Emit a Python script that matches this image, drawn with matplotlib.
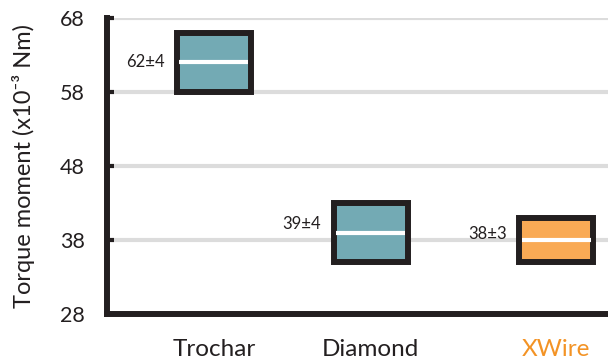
import matplotlib.pyplot as plt
from matplotlib.patches import Rectangle

# Torque moment (x10^-3 Nm) per needle type: mean and spread
categories = ["Trochar", "Diamond", "XWire"]
means = [62, 39, 38]
spreads = [4, 4, 3]
fill_colors = ["#73aab4", "#73aab4", "#f9aa55"]
label_colors = ["#231f20", "#231f20", "#f39325"]
yticks = [28, 38, 48, 58, 68]

plt.rcParams["font.family"] = ["Lato", "DejaVu Sans"]
dark = "#231f20"

fig = plt.figure(figsize=(6.08, 3.62), dpi=100)
ax = fig.add_axes([107 / 608, 1 - 314 / 362, 1 - 107 / 608, (314 - 18) / 362])

xpos = [0, 1, 2.18]
width = 0.47
label_dy = [0, 1.2, 0.8]

for i, (m, s) in enumerate(zip(means, spreads)):
    x = xpos[i]
    ax.add_patch(Rectangle((x - width / 2, m - s), width, 2 * s,
                           facecolor=fill_colors[i], edgecolor=dark,
                           linewidth=4.3, zorder=3))
    ax.plot([x - width / 2 + 0.015, x + width / 2 - 0.015], [m, m],
            color="white", linewidth=3, solid_capstyle="butt", zorder=4)
    ax.text(x - width / 2 - 0.08, m + label_dy[i], f"{m}\u00b1{s}",
            ha="right", va="center", fontsize=12, color=dark)

ax.set_xlim(-0.68, 2.51)
ax.set_ylim(28, 68)
ax.set_yticks(yticks)
ax.set_yticklabels([str(t) for t in yticks], fontsize=15.5, color=dark)
ax.set_xticks(xpos)
ax.set_xticklabels(categories, fontsize=17.5)
for lbl, c in zip(ax.get_xticklabels(), label_colors):
    lbl.set_color(c)

ax.tick_params(axis="y", direction="in", length=5, width=3, color=dark, pad=16)
ax.tick_params(axis="x", length=0, pad=18)

for t in yticks[1:]:
    ax.axhline(t, xmin=0.012, xmax=1, color="#dcdcdc", linewidth=3, zorder=1)

for side in ["top", "right"]:
    ax.spines[side].set_visible(False)
for side in ["left", "bottom"]:
    ax.spines[side].set_linewidth(4.3)
    ax.spines[side].set_color(dark)
    ax.spines[side].set_capstyle("projecting")

ax.set_ylabel("Torque moment (x10\u207b\u00b3 Nm)", fontsize=17, color=dark, labelpad=18)

fig.savefig("out.png", dpi=100)
